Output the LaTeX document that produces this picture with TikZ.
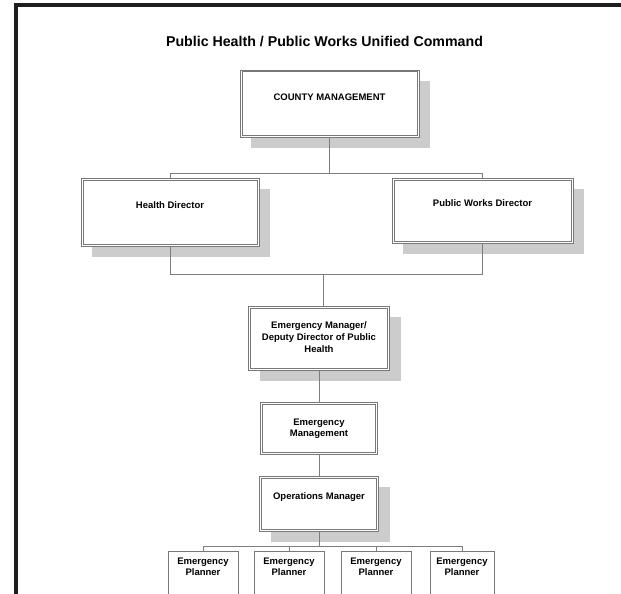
\documentclass[tikz,border=0pt]{standalone}
\usepackage{fontspec}
\setmainfont{Liberation Sans}
\usetikzlibrary{shadows}
\definecolor{boxgray}{RGB}{120,120,120}
\definecolor{linegray}{RGB}{125,125,125}
\definecolor{shadowgray}{RGB}{204,204,204}
\definecolor{framegray}{RGB}{30,30,30}

\begin{document}
\begin{tikzpicture}[x=1pt, y=-1pt,
        unitbox/.style={draw=boxgray, line width=0.7pt, fill=white, inner sep=0pt},
        shadowbox/.style={unitbox,
            drop shadow={shadow xshift=11pt, shadow yshift=-11pt, fill=shadowgray, opacity=1}},
        innerframe/.style={draw=boxgray, line width=0.7pt},
        plannerbox/.style={draw=boxgray, line width=0.8pt, fill=white, inner sep=0pt,
            minimum height=60pt},
        boxtext/.style={font=\bfseries\fontsize{9.5}{12}\selectfont, align=center, inner sep=0pt},
        link/.style={draw=linegray, line width=0.8pt}]
        \clip (0,0) rectangle (621,594);
        \fill[white] (0,0) rectangle (621,594);
        \draw[framegray, line width=4pt] (16,596) -- (16,5.3) -- (625,5.3);
        \node[font=\bfseries\fontsize{14.2}{17}\selectfont] (title) at (324.5,41)
            {Public Health / Public Works Unified Command};

        \node[shadowbox, minimum width=179pt, minimum height=67pt] (county) at (329.5,103.5) {};
        \node[shadowbox, minimum width=178pt, minimum height=68pt] (health) at (170,212) {};
        \node[shadowbox, minimum width=181pt, minimum height=65pt] (works) at (482.5,210.5) {};
        \node[shadowbox, minimum width=141pt, minimum height=64pt] (emdeputy) at (319,338) {};
        \node[unitbox, minimum width=117pt, minimum height=52pt] (emgmt) at (319,428) {};
        \node[shadowbox, minimum width=119pt, minimum height=55pt] (ops) at (319,503.5) {};
        \foreach \b in {county,health,works,emdeputy,emgmt,ops}{
            \draw[innerframe] ([shift={(2.2pt,-2.2pt)}]\b.north west) rectangle ([shift={(-2.2pt,2.2pt)}]\b.south east);
        }
        \node[plannerbox, minimum width=70pt, anchor=north] (planA) at (203,551) {};
        \node[plannerbox, minimum width=70pt, anchor=north] (planB) at (289,551) {};
        \node[plannerbox, minimum width=70pt, anchor=north] (planC) at (376,551) {};
        \node[plannerbox, minimum width=64pt, anchor=north] (planD) at (462,551) {};

        \node[boxtext] (countytext) at (329.5,97) {COUNTY MANAGEMENT};
        \node[boxtext] (healthtext) at (170,205) {Health Director};
        \node[boxtext] (workstext) at (482.5,203) {Public Works Director};
        \node[boxtext] (emdeputytext) at (319,337)
            {Emergency Manager/\\Deputy Director of Public\\Health};
        \node[boxtext, font=\bfseries\fontsize{9.5}{11.5}\selectfont] (emgmttext) at (319,428.5)
            {Emergency\\Management};
        \node[boxtext] (opstext) at (319,497) {Operations Manager};
        \foreach \p in {planA,planB,planC,planD}{
            \node[boxtext, font=\bfseries\fontsize{9.5}{11}\selectfont] (\p text) at ([yshift=-15.5pt]\p.north)
                {Emergency\\Planner};
        }

        \coordinate (bustop) at (329.5,173.5);
        \coordinate (busmid) at (323,274);
        \coordinate (busplan) at (319,546.5);
        \draw[link] (county.south) -- (bustop);
        \draw[link] (health.north) -- (health.north |- bustop) -- (works.north |- bustop) -- (works.north);
        \draw[link] (health.south) -- (health.south |- busmid) -- (works.south |- busmid) -- (works.south);
        \draw[link] (busmid) -- (busmid |- emdeputy.north);
        \draw[link] (emdeputy.south) -- (emgmt.north);
        \draw[link] (emgmt.south) -- (ops.north);
        \draw[link] (ops.south) -- (busplan);
        \draw[link] (planA.north) -- (planA.north |- busplan) -- (planD.north |- busplan) -- (planD.north);
        \draw[link] (planB.north) -- (planB.north |- busplan);
        \draw[link] (planC.north) -- (planC.north |- busplan);
    \end{tikzpicture}
\end{document}
